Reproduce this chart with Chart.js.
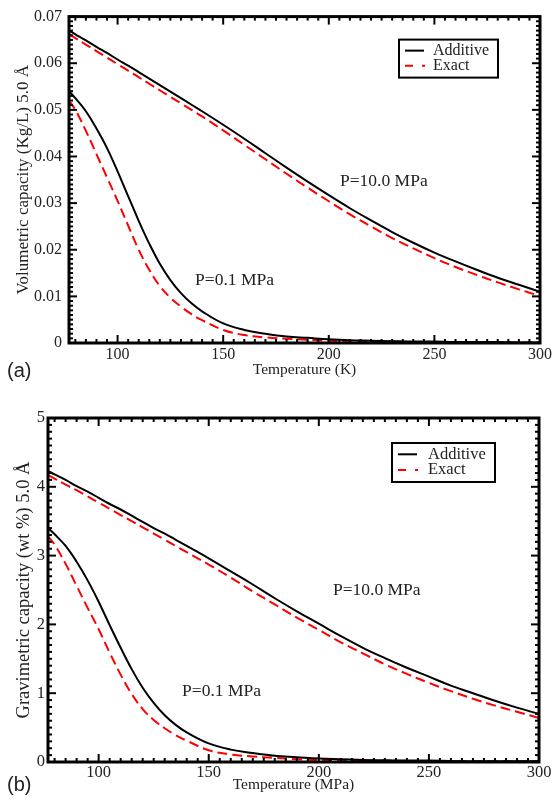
<!DOCTYPE html>
<html>
<head>
<meta charset="utf-8">
<script src="https://cdn.jsdelivr.net/npm/chart.js@4.4.1/dist/chart.umd.min.js"></script>
<style>
  body { margin: 0; background: #fff; }
  #wrap { position: relative; width: 554px; height: 801px; }
  canvas { position: absolute; left: 0; }
</style>
</head>
<body>
<div id="wrap">
  <canvas id="volChart" width="554" height="395" style="top:0"></canvas>
  <canvas id="gravChart" width="554" height="406" style="top:395px"></canvas>
</div>
<script>
const temps = [77, 80, 85, 90, 95, 100, 105, 110, 115, 120, 125, 130, 135, 140, 150,
  160, 170, 180, 190, 200, 210, 220, 230, 240, 250, 260, 270, 280, 290, 300];

// (a) volumetric capacity, Kg/L
const volAdditive10 = [0.0670, 0.0662, 0.0649, 0.0635, 0.0622, 0.0608, 0.0595, 0.0581, 0.0567, 0.0553,
  0.0539, 0.0525, 0.0511, 0.0497, 0.0468, 0.0438, 0.0407, 0.0376, 0.0346, 0.0317,
  0.0289, 0.0263, 0.0238, 0.0215, 0.0194, 0.0175, 0.0157, 0.0140, 0.0125, 0.0110];
const volExact10 = [0.0662, 0.0654, 0.0640, 0.0626, 0.0612, 0.0598, 0.0584, 0.0570, 0.0556, 0.0542,
  0.0528, 0.0514, 0.0500, 0.0486, 0.0456, 0.0425, 0.0394, 0.0363, 0.0333, 0.0304,
  0.0276, 0.0250, 0.0225, 0.0203, 0.0182, 0.0163, 0.0146, 0.0130, 0.0115, 0.0101];
const volAdditive01 = [0.0540, 0.0525, 0.0497, 0.0460, 0.0418, 0.0368, 0.0315, 0.0262, 0.0213, 0.0170,
  0.0135, 0.0107, 0.0085, 0.0068, 0.0042, 0.0028, 0.0020, 0.0014, 0.0011, 0.0008,
  0.0006, 0.0005, 0.0004, 0.0003, 0.0003, 0.0002, 0.0002, 0.0002, 0.0001, 0.0001];
const volExact01 = [0.0520, 0.0500, 0.0455, 0.0405, 0.0355, 0.0305, 0.0252, 0.0200, 0.0157, 0.0122,
  0.0097, 0.0078, 0.0062, 0.0049, 0.0028, 0.0017, 0.0012, 0.0009, 0.0007, 0.0005,
  0.0004, 0.0003, 0.0003, 0.0002, 0.0002, 0.0001, 0.0001, 0.0001, 0.0001, 0.0001];

// (b) gravimetric capacity, wt %
const gravAdditive10 = [4.23, 4.18, 4.10, 4.01, 3.93, 3.84, 3.75, 3.67, 3.58, 3.49,
  3.40, 3.32, 3.23, 3.14, 2.96, 2.77, 2.58, 2.38, 2.19, 2.01,
  1.83, 1.66, 1.51, 1.37, 1.24, 1.11, 1.00, 0.89, 0.79, 0.70];
const gravExact10 = [4.17, 4.12, 4.03, 3.95, 3.86, 3.77, 3.68, 3.59, 3.50, 3.41,
  3.32, 3.23, 3.14, 3.05, 2.87, 2.68, 2.48, 2.29, 2.10, 1.92,
  1.74, 1.58, 1.42, 1.28, 1.15, 1.03, 0.92, 0.82, 0.73, 0.64];
const gravAdditive01 = [3.40, 3.31, 3.14, 2.91, 2.64, 2.33, 1.99, 1.66, 1.35, 1.08,
  0.86, 0.68, 0.54, 0.43, 0.27, 0.18, 0.13, 0.09, 0.07, 0.05,
  0.04, 0.03, 0.025, 0.02, 0.02, 0.015, 0.01, 0.01, 0.01, 0.01];
const gravExact01 = [3.28, 3.16, 2.88, 2.56, 2.24, 1.93, 1.59, 1.27, 0.99, 0.77,
  0.61, 0.49, 0.39, 0.31, 0.17, 0.11, 0.08, 0.06, 0.04, 0.03,
  0.025, 0.02, 0.02, 0.015, 0.01, 0.01, 0.01, 0.01, 0.01, 0.01];

const xTicks = [100, 150, 200, 250, 300];
const volTicks = [0, 0.01, 0.02, 0.03, 0.04, 0.05, 0.06, 0.07];
const gravTicks = [0, 1, 2, 3, 4, 5];

const SERIF = "'Liberation Serif', 'Times New Roman', serif";
const SANS = "'Liberation Sans', Arial, sans-serif";

const pts = (arr) => temps.map((t, i) => ({ x: t, y: arr[i] }));

function series(label, arr, dashed) {
  return {
    label: label,
    data: pts(arr),
    borderColor: dashed ? '#ff0000' : '#000000',
    borderWidth: 2,
    borderDash: dashed ? [10, 5] : [],
    pointRadius: 0,
    fill: false,
    tension: 0.4,
  };
}

// frame with inward ticks on all four sides, legend box, notes and panel letter
const framePlugin = {
  id: 'frame',
  afterDatasetsDraw(chart, args, o) {
    const { ctx, chartArea: a, scales: { x, y } } = chart;
    const seg = (x1, y1, x2, y2) => { ctx.beginPath(); ctx.moveTo(x1, y1); ctx.lineTo(x2, y2); ctx.stroke(); };
    ctx.save();
    ctx.strokeStyle = '#000';
    ctx.lineWidth = 2;
    for (let v = 80; v <= 300; v += 5) {
      const px = x.getPixelForValue(v);
      const len = v % 50 === 0 ? 8 : 4;
      seg(px, a.bottom, px, a.bottom - len);
      seg(px, a.top, px, a.top + len);
    }
    for (let k = 0; k <= o.yCount; k++) {
      const py = y.getPixelForValue(k * o.yStep);
      const len = k % o.majorEvery === 0 ? 8 : 4;
      seg(a.left, py, a.left + len, py);
      seg(a.right, py, a.right - len, py);
    }
    ctx.lineWidth = 3;
    ctx.strokeRect(a.left, a.top, a.right - a.left, a.bottom - a.top);

    // legend
    const L = o.legend;
    const bx = a.right - L.fromRight, by = a.top + L.fromTop;
    ctx.lineWidth = 2;
    ctx.strokeRect(bx, by, L.w, L.h);
    ctx.font = L.size + 'px ' + SERIF;
    ctx.fillStyle = '#222';
    ctx.textBaseline = 'middle';
    ctx.textAlign = 'left';
    const r1 = by + L.h * 0.29, r2 = by + L.h * 0.69;
    ctx.strokeStyle = '#000';
    seg(bx + 6, r1, bx + 25, r1);
    ctx.fillText('Additive', bx + L.textX, r1);
    ctx.strokeStyle = '#ff0000';
    ctx.setLineDash([8, 9]);
    seg(bx + 6, r2, bx + 26, r2);
    ctx.setLineDash([]);
    ctx.fillText('Exact', bx + L.textX, r2);

    // notes placed in data units
    ctx.font = o.noteSize + 'px ' + SERIF;
    o.notes.forEach(n => {
      ctx.fillText(n.text, x.getPixelForValue(n.x), y.getPixelForValue(n.y));
    });

    // panel letter
    ctx.font = '20px ' + SANS;
    ctx.fillText(o.panel, 7, o.panelY);
    ctx.restore();
  }
};

function makeChart(id, cfg) {
  return new Chart(document.getElementById(id), {
    type: 'line',
    data: {
      datasets: [
        series('Additive', cfg.add10, false),
        series('Exact', cfg.ex10, true),
        series('Additive', cfg.add01, false),
        series('Exact', cfg.ex01, true),
      ]
    },
    options: {
      responsive: false,
      animation: false,
      layout: { padding: cfg.padding },
      plugins: {
        legend: { display: false },
        tooltip: { enabled: false },
        frame: cfg.frame,
      },
      scales: {
        x: {
          type: 'linear', min: 77, max: 300,
          grid: { display: false, drawTicks: false },
          border: { display: false },
          afterBuildTicks: s => { s.ticks = xTicks.map(v => ({ value: v })); },
          afterFit: s => { s.height = cfg.xHeight; },
          ticks: { padding: cfg.xTickPad, color: '#222', maxRotation: 0, autoSkip: false,
            font: { family: SERIF, size: cfg.tickSize } },
          title: { display: true, text: cfg.xTitle, color: '#222',
            font: { family: SERIF, size: 15.5 }, padding: { top: 0, bottom: cfg.xTitlePad } },
        },
        y: {
          type: 'linear', min: 0, max: cfg.yMax,
          grid: { display: false, drawTicks: false },
          border: { display: false },
          afterBuildTicks: s => { s.ticks = cfg.yTicks.map(v => ({ value: v })); },
          afterFit: s => { s.width = cfg.yWidth; },
          ticks: { padding: cfg.yTickPad, color: '#222',
            font: { family: SERIF, size: cfg.tickSize },
            callback: cfg.yFormat },
          title: { display: true, text: cfg.yTitle, color: '#222',
            font: { family: SERIF, size: cfg.yTitleSize }, padding: { top: 13, bottom: 0 } },
        }
      }
    },
    plugins: [framePlugin]
  });
}

makeChart('volChart', {
  add10: volAdditive10, ex10: volExact10, add01: volAdditive01, ex01: volExact01,
  padding: { left: 0, top: 14, right: 14, bottom: 0 },
  xHeight: 52, yWidth: 69, xTickPad: 2, yTickPad: 7, tickSize: 16,
  xTitle: 'Temperature (K)', xTitlePad: 15.7,
  yTitle: 'Volumetric capacity (Kg/L) 5.0 Å', yTitleSize: 17,
  yMax: 0.07, yTicks: volTicks,
  yFormat: v => v === 0 ? '0' : v.toFixed(2),
  frame: {
    yStep: 0.001, yCount: 70, majorEvery: 10,
    legend: { fromRight: 141, fromTop: 23, w: 99, h: 38, size: 16, textX: 34 },
    noteSize: 17.5,
    notes: [
      { text: 'P=10.0 MPa', x: 205.3, y: 0.0347 },
      { text: 'P=0.1 MPa', x: 136.7, y: 0.0134 },
    ],
    panel: '(a)', panelY: 371,
  }
});

makeChart('gravChart', {
  add10: gravAdditive10, ex10: gravExact10, add01: gravAdditive01, ex01: gravExact01,
  padding: { left: 0, top: 23, right: 15, bottom: 0 },
  xHeight: 39, yWidth: 48, xTickPad: 1, yTickPad: 3, tickSize: 16.5,
  xTitle: 'Temperature (MPa)', xTitlePad: 6.7,
  yTitle: 'Gravimetric capacity (wt %) 5.0 Å', yTitleSize: 18.5,
  yMax: 5, yTicks: gravTicks,
  yFormat: v => String(v),
  frame: {
    yStep: 0.1, yCount: 50, majorEvery: 10,
    legend: { fromRight: 147, fromTop: 25, w: 103, h: 39, size: 16.5, textX: 36 },
    noteSize: 17.5,
    notes: [
      { text: 'P=10.0 MPa', x: 206.4, y: 2.5 },
      { text: 'P=0.1 MPa', x: 137.9, y: 1.02 },
    ],
    panel: '(b)', panelY: 390,
  }
});
</script>
</body>
</html>
